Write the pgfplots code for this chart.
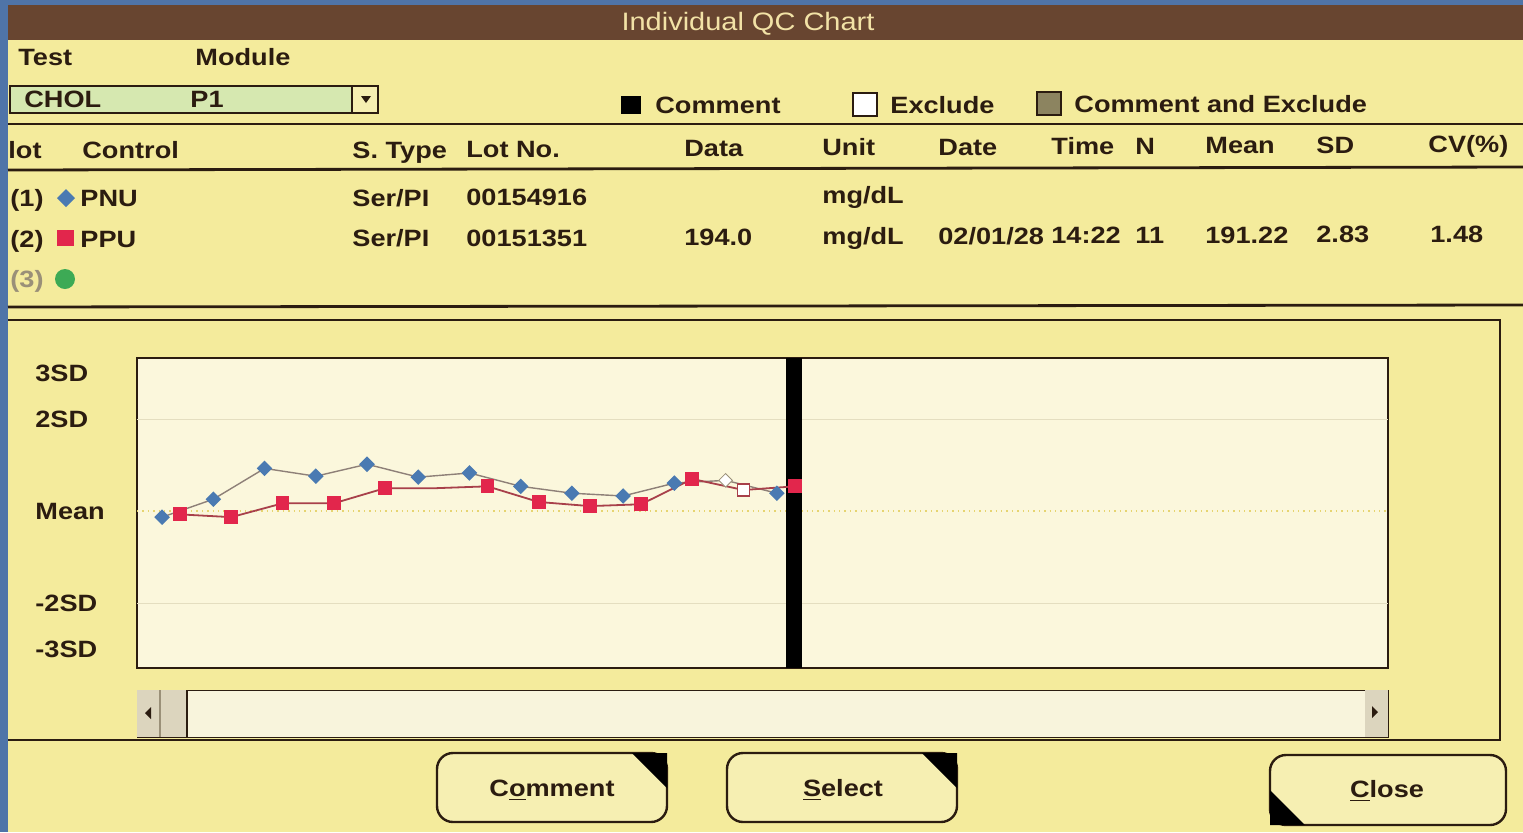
\documentclass[border=0pt]{standalone}
\usepackage{pgfplots}
\pgfplotsset{compat=1.18}
\usepackage{pgfplotstable}
\usepackage{fontspec}
\setmainfont{Liberation Sans}[FakeStretch=1.15]
\definecolor{bgblue}{HTML}{4F74A8}
\definecolor{panel}{HTML}{F4EB9C}
\definecolor{titlebar}{HTML}{684530}
\definecolor{titletext}{HTML}{F2E2A6}
\definecolor{ink}{HTML}{2B1C10}
\definecolor{plotbg}{HTML}{FBF7DC}
\definecolor{dropgreen}{HTML}{D6E8B0}
\definecolor{pnublue}{HTML}{4A7AB2}
\definecolor{ppured}{HTML}{E2264C}
\definecolor{pnuline}{HTML}{8E8078}
\definecolor{ppuline}{HTML}{A8404A}
\definecolor{gridc}{HTML}{E4DEC0}
\definecolor{meanc}{HTML}{E6D470}
\definecolor{olive}{HTML}{8C8460}
\definecolor{btn}{HTML}{F6EFB2}
\definecolor{scroll}{HTML}{F8F4DC}
\definecolor{thumb}{HTML}{DCD5BE}
\definecolor{greyt}{HTML}{9A9078}
\definecolor{dotgreen}{HTML}{3DAA55}
\newcommand\ui{\fontsize{11.8}{14}\selectfont\bfseries}

\pgfplotstableread{
x y
0 -0.13
1 0.26
2 0.93
3 0.76
4 1.02
5 0.74
6 0.83
7 0.54
8 0.39
9 0.33
10 0.61
11 0.67
12 0.39
}\pnu
\pgfplotstableread{
x y
0.35 -0.07
1.35 -0.13
2.35 0.17
3.35 0.17
4.35 0.50
5.35 0.50
6.35 0.54
7.35 0.20
8.35 0.11
9.35 0.15
10.35 0.70
11.35 0.46
12.35 0.54
}\ppu

\begin{document}
\begin{tikzpicture}
\begin{scope}[x=0.5pt,y=-0.5pt,every node/.style={font=\ui,text=ink,inner sep=0pt}]
\path[use as bounding box] (0,0) rectangle (1523,832);
\fill[bgblue] (0,0) rectangle (1523,832);
\fill[panel] (8,5) rectangle (1523,832);
\fill[titlebar] (8,5) rectangle (1523,40);
\node[anchor=base,text=titletext,font=\fontsize{12.6}{14}\selectfont] at (748,30) {Individual QC Chart};
\node[anchor=base west] at (18,65) {Test};
\node[anchor=base west] at (195,65) {Module};
% dropdown
\draw[ink,line width=0.8pt,fill=dropgreen] (10,86) rectangle (352,113);
\draw[ink,line width=0.8pt,fill=btn] (352,86) rectangle (378,113);
\fill[ink] (361,96) -- (371,96) -- (366,103) -- cycle;
\node[anchor=base west] at (24,107) {CHOL};
\node[anchor=base west] at (190,107) {P1};
% legend
\fill[black] (621,96) rectangle (641,114);
\node[anchor=base west] at (655,113) {Comment};
\draw[ink,fill=white,line width=0.8pt] (853,93) rectangle (877,116);
\node[anchor=base west] at (890,113) {Exclude};
\draw[ink,fill=olive,line width=0.8pt] (1037,92) rectangle (1061,115);
\node[anchor=base west] at (1074,112) {Comment and Exclude};
% separators
\draw[ink,line width=1.4pt] (8,124) -- (1523,124);
\draw[ink,line width=1.4pt] (8,170) -- (1523,167);
\draw[ink,line width=1.4pt] (8,307) -- (1523,305);
% header
\node[anchor=base west] at (8,158) {lot};
\node[anchor=base west] at (82,158) {Control};
\node[anchor=base west] at (352,158) {S. Type};
\node[anchor=base west] at (466,157) {Lot No.};
\node[anchor=base west] at (684,156) {Data};
\node[anchor=base west] at (822,155) {Unit};
\node[anchor=base west] at (938,155) {Date};
\node[anchor=base west] at (1051,154) {Time};
\node[anchor=base west] at (1135,154) {N};
\node[anchor=base west] at (1205,153) {Mean};
\node[anchor=base west] at (1316,153) {SD};
\node[anchor=base west] at (1428,152) {CV(\%)};
% row 1
\node[anchor=base west] at (10,206) {(1)};
\fill[pnublue] (66,189) -- (75,198) -- (66,207) -- (57,198) -- cycle;
\node[anchor=base west] at (80,206) {PNU};
\node[anchor=base west] at (352,206) {Ser/PI};
\node[anchor=base west] at (466,205) {00154916};
\node[anchor=base west] at (822,203) {mg/dL};
% row 2
\node[anchor=base west] at (10,247) {(2)};
\fill[ppured] (57,230) rectangle (74,246);
\node[anchor=base west] at (80,247) {PPU};
\node[anchor=base west] at (352,246) {Ser/PI};
\node[anchor=base west] at (466,246) {00151351};
\node[anchor=base west] at (684,245) {194.0};
\node[anchor=base west] at (822,244) {mg/dL};
\node[anchor=base west] at (938,244) {02/01/28};
\node[anchor=base west] at (1051,243) {14:22};
\node[anchor=base west] at (1135,243) {11};
\node[anchor=base west] at (1205,243) {191.22};
\node[anchor=base west] at (1316,242) {2.83};
\node[anchor=base west] at (1430,242) {1.48};
% row 3
\node[anchor=base west,text=greyt] at (10,287) {(3)};
\fill[dotgreen] (65,279) circle (10);
% chart frame
\draw[ink,line width=1pt] (8,320) -- (1500,320) -- (1500,740) -- (8,740);
% scrollbar
\fill[scroll] (137,690) rectangle (1388,737);
\draw[ink,line width=0.5pt] (137,690) rectangle (1388,737);
\fill[thumb] (137,690) rectangle (187,737);
\draw[greyt,line width=0.6pt] (160,690) -- (160,737);
\draw[ink,line width=0.8pt] (187,690) -- (187,737);
\fill[ink] (151,707) -- (151,719) -- (145,713) -- cycle;
\fill[thumb] (1365,690) rectangle (1388,737);
\fill[ink] (1372,706) -- (1372,718) -- (1378,712) -- cycle;
% buttons
\draw[ink,line width=1.2pt,rounded corners=8,fill=btn] (437,753) rectangle (667,822);
\fill[black] (632,753) -- (667,753) -- (667,788) -- cycle;
\node[anchor=base] at (552,796) {C\underline{o}mment};
\draw[ink,line width=1.2pt,rounded corners=8,fill=btn] (727,753) rectangle (957,822);
\fill[black] (922,753) -- (957,753) -- (957,788) -- cycle;
\node[anchor=base] at (843,796) {\underline{S}elect};
\draw[ink,line width=1.2pt,rounded corners=8,fill=btn] (1270,755) rectangle (1506,825);
\fill[black] (1270,790) -- (1270,825) -- (1305,825) -- cycle;
\node[anchor=base] at (1387,797) {\underline{C}lose};
\end{scope}

\begin{axis}[
  at={(68.5pt,-179pt)}, anchor=north west,
  width=625.5pt, height=155pt, scale only axis,
  xmin=-0.49, xmax=23.93, ymin=-3.41, ymax=3.33,
  axis background/.style={fill=plotbg},
  axis line style={ink,line width=1pt},
  xtick=\empty,
  ytick={-3,-2,0,2,3},
  yticklabels={-3SD,-2SD,Mean,2SD,3SD},
  major tick length=0pt,
  yticklabel style={font=\ui,text=ink,anchor=west,inner xsep=0pt,xshift=-51pt},
  extra y ticks={-2,2}, extra y tick labels={},
  extra y tick style={grid=major,major grid style={gridc,line width=0.6pt}},
]
\draw[meanc,dotted,line width=0.7pt] (axis cs:-0.49,0) -- (axis cs:23.93,0);
\fill[black] (axis cs:12.17,-3.41) rectangle (axis cs:12.5,3.33);
\addplot[pnuline,line width=0.7pt,mark=square*,mark size=2.4pt,
  mark options={rotate=45,fill=pnublue,draw=pnublue,solid},
  mark indices={1,2,3,4,5,6,7,8,9,10,11,13}] table {\pnu};
\addplot[ppuline,line width=0.9pt,mark=square*,mark size=3pt,
  mark options={fill=ppured,draw=ppured,solid},
  mark indices={1,2,3,4,5,7,8,9,10,11,12,13}] table {\ppu};
\addplot[only marks,mark=square*,mark size=2.4pt,
  mark options={rotate=45,fill=white,draw=greyt,line width=0.4pt}] coordinates {(11,0.67)};
\addplot[only marks,mark=square*,mark size=3pt,
  mark options={fill=white,draw=ppuline,line width=0.6pt}] coordinates {(11.35,0.46)};
\end{axis}
\end{tikzpicture}
\end{document}
